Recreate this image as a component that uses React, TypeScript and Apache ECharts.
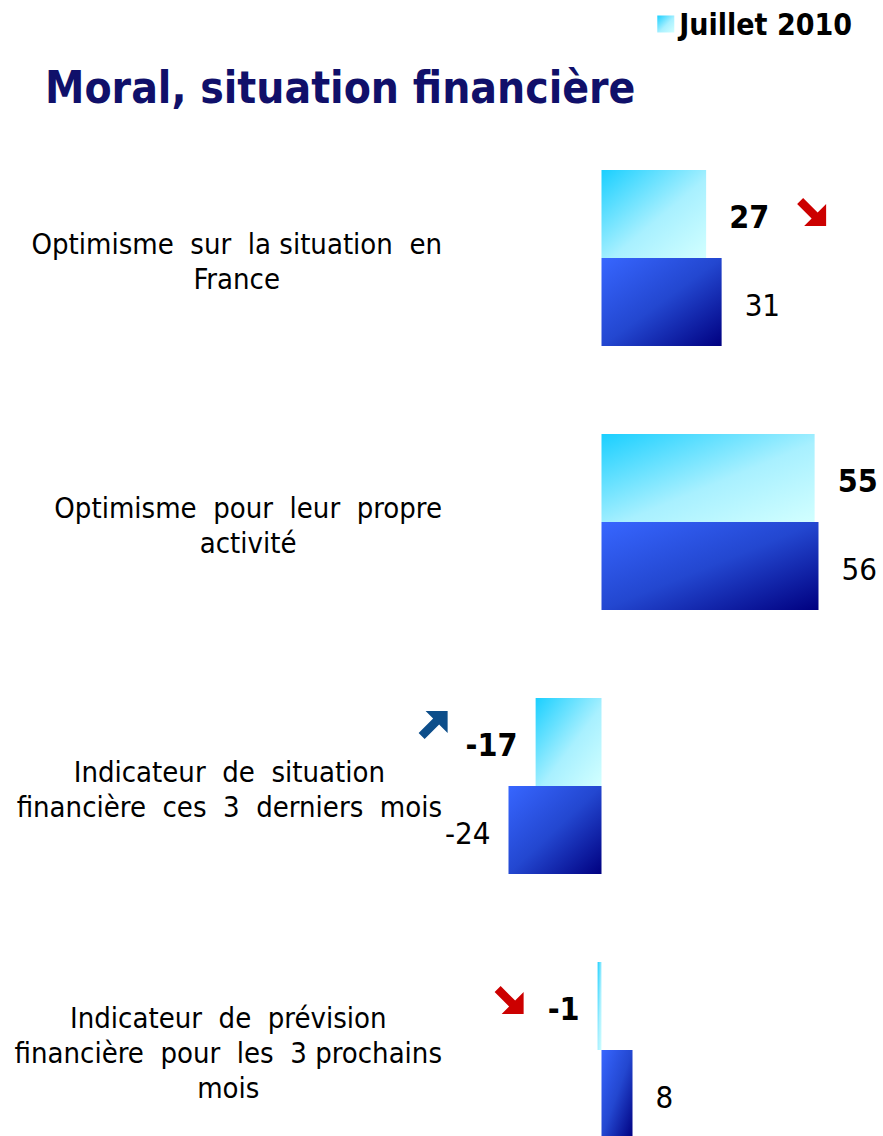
import React, { useEffect, useRef } from "react";
import * as echarts from "echarts";

const categories = [
  "Optimisme  sur  la situation  en\nFrance",
  "Optimisme  pour  leur  propre\nactivité",
  "Indicateur  de  situation\nfinancière  ces  3  derniers  mois",
  "Indicateur  de  prévision\nfinancière  pour  les  3 prochains\nmois",
];
const juillet2010 = [27, 55, -17, -1];
const precedente = [31, 56, -24, 8];
// trend arrows: 1 = up, -1 = down, 0 = none (shown beside the Juillet 2010 values)
const trends = [-1, 0, 1, -1];

const FONT = "'DejaVu Sans Condensed', 'DejaVu Sans', sans-serif";

const downPts = [
  [0, 6], [6, 0], [20.5, 14.5], [29, 6], [29, 28], [7, 28], [14.5, 20.5],
];
const upPts = downPts.map(([x, y]) => [x, 28 - y]);

export default function App() {
  const ref = useRef<HTMLDivElement>(null);
  useEffect(() => {
    if (!ref.current) return;
    document.body.style.margin = "0";
    const chart = echarts.init(ref.current, undefined, { renderer: "svg" });

    const lightGrad = new echarts.graphic.LinearGradient(0, 0, 1, 1, [
      { offset: 0, color: "#1ACFFF" },
      { offset: 0.55, color: "#A8F0FF" },
      { offset: 1, color: "#D2FFFF" },
    ]);
    const darkGrad = new echarts.graphic.LinearGradient(0, 0, 1, 1, [
      { offset: 0, color: "#3766FF" },
      { offset: 0.5, color: "#2347D0" },
      { offset: 1, color: "#000080" },
    ]);

    const mk = (vals: number[]) =>
      vals.map((v) => ({
        value: v,
        label: { position: v < 0 ? "left" : "right", distance: v < 0 ? 18 : 23 },
      }));

    const option: any = {
      animation: false,
      backgroundColor: "#ffffff",
      title: {
        text: "Moral, situation financière",
        left: 40,
        top: 60,
        textStyle: {
          fontFamily: FONT,
          fontWeight: "bold",
          fontSize: 44,
          color: "#10106A",
        },
      },
      legend: {
        data: ["Juillet 2010"],
        right: 26,
        top: 4,
        icon: "rect",
        itemWidth: 17,
        itemHeight: 17,
        textStyle: {
          fontFamily: FONT,
          fontWeight: "bold",
          fontSize: 30,
          color: "#000",
        },
      },
      grid: {
        left: 214,
        width: 620,
        top: 126,
        height: 1056,
        containLabel: false,
        outerBoundsMode: "none",
      },
      xAxis: {
        type: "value",
        min: -100,
        max: 60,
        show: false,
      },
      yAxis: {
        type: "category",
        data: categories,
        inverse: true,
        axisLine: { show: false, onZero: false },
        axisTick: { show: false },
        splitLine: { show: false },
        axisLabel: {
          interval: 0,
          margin: -228,
          align: "right",
          padding: [6, 0, 0, 0],
          formatter: (v: string) =>
            v
              .split("\n")
              .map((l) => `{c|${l}}`)
              .join("\n"),
          rich: {
            c: {
              align: "center",
              fontFamily: FONT,
              fontSize: 29,
              lineHeight: 35,
              color: "#000",
            },
          },
        },
      },
      series: [
        {
          name: "Juillet 2010",
          type: "bar",
          barWidth: 88,
          barGap: "0%",
          data: mk(juillet2010),
          itemStyle: { color: lightGrad },
          label: {
            show: true,
            fontFamily: FONT,
            fontWeight: "bold",
            fontSize: 32,
            color: "#000",
            offset: [0, 3],
          },
        },
        {
          name: "Vague précédente",
          type: "bar",
          barWidth: 88,
          barGap: "0%",
          data: mk(precedente),
          itemStyle: { color: darkGrad },
          label: {
            show: true,
            fontFamily: FONT,
            fontSize: 31,
            color: "#000",
            offset: [0, 3],
          },
        },
      ],
    };
    chart.setOption(option);

    // Trend arrows beside the Juillet 2010 value labels, placed from the chart's scales
    const arrows: any[] = [];
    const offsets: Record<number, [number, number]> = {
      0: [91, -60],
      2: [-117, -75],
      3: [-103, -64],
    };
    trends.forEach((t, i) => {
      if (t === 0) return;
      const p = chart.convertToPixel({ gridIndex: 0 }, [juillet2010[i], i]) as number[];
      const off = offsets[i] || [0, 0];
      arrows.push({
        type: "polygon",
        x: p[0] + off[0],
        y: p[1] + off[1],
        shape: { points: t < 0 ? downPts : upPts },
        style: { fill: t < 0 ? "#CC0000" : "#0D4E8A" },
        silent: true,
      });
    });
    chart.setOption({ graphic: arrows });

    return () => chart.dispose();
  }, []);
  return (
    <div
      ref={ref}
      style={{ position: "fixed", left: 0, top: 0, width: 883, height: 1136 }}
    />
  );
}
